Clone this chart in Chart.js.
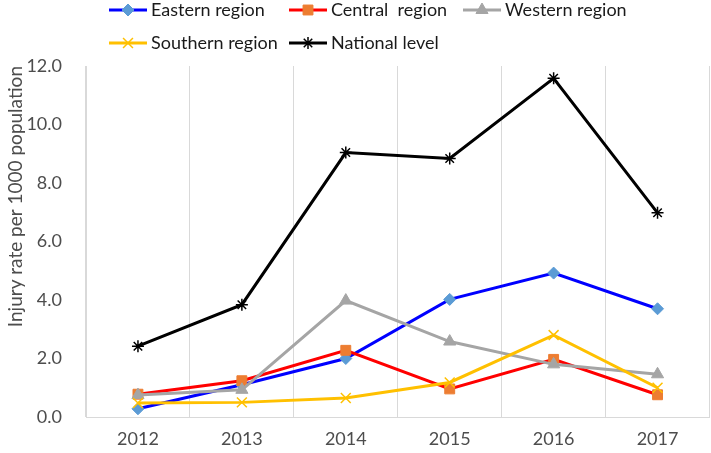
<!DOCTYPE html>
<html>
<head>
<meta charset="utf-8">
<script src="https://cdn.jsdelivr.net/npm/chart.js@4"></script>
<style>
  html, body { margin: 0; padding: 0; background: #fff; overflow: hidden; }
  #wrap { width: 718px; height: 453px; position: relative; }
</style>
</head>
<body>
<div id="wrap"><canvas id="chart"></canvas></div>
<script>
// Data
const years = ['2012', '2013', '2014', '2015', '2016', '2017'];
const eastern = [0.28, 1.1, 2.0, 4.02, 4.92, 3.7];
const central = [0.78, 1.24, 2.28, 0.96, 1.97, 0.76];
const western = [0.75, 0.93, 3.98, 2.58, 1.8, 1.46];
const southern = [0.48, 0.5, 0.65, 1.18, 2.8, 1.0];
const national = [2.42, 3.84, 9.04, 8.84, 11.58, 6.98];
const yTicks = [0, 2, 4, 6, 8, 10, 12];

const FONT = 'Lato, "Open Sans", sans-serif';
const TEXT = '#4d4d4d';

function series(label, data, color, markerColor, style, radius, order) {
    return {
        label: label,
        data: data,
        borderColor: color,
        backgroundColor: markerColor,
        pointBackgroundColor: markerColor,
        pointBorderColor: markerColor,
        pointStyle: style,
        pointRadius: radius,
        pointBorderWidth: (style === 'crossRot' || style === 'star') ? 1.5 : 1,
        borderWidth: 3,
        tension: 0,
        order: order
    };
}

const datasets = [
    series('Eastern region', eastern, '#0000ff', '#5b9bd5', 'rectRot', 6, 5),
    series('Central  region', central, '#ff0000', '#ed7d31', 'rect', 7, 4),
    series('Western region', western, '#a5a5a5', '#a5a5a5', 'triangle', 7, 3),
    series('Southern region', southern, '#ffc000', '#ffc000', 'crossRot', 7, 2),
    series('National level', national, '#000000', '#000000', 'star', 6, 1)
];

// Excel-style legend: rows aligned to the left, drawn above the plot
const legendSpots = [
    { x: 109, y: 10 }, { x: 289, y: 10 }, { x: 463, y: 10 },
    { x: 109, y: 43 }, { x: 289, y: 43 }
];

const excelLegend = {
    id: 'excelLegend',
    afterDraw(chart) {
        const ctx = chart.ctx;
        ctx.save();
        chart.data.datasets.forEach((ds, i) => {
            const p = legendSpots[i];
            ctx.strokeStyle = ds.borderColor;
            ctx.lineWidth = 3;
            ctx.beginPath();
            ctx.moveTo(p.x, p.y);
            ctx.lineTo(p.x + 38, p.y);
            ctx.stroke();
            ctx.fillStyle = ds.pointBackgroundColor;
            ctx.strokeStyle = ds.pointBorderColor;
            ctx.lineWidth = ds.pointBorderWidth;
            Chart.helpers.drawPoint(ctx, {
                pointStyle: ds.pointStyle,
                radius: ds.pointRadius,
                borderWidth: ds.pointBorderWidth,
                rotation: 0
            }, p.x + 19, p.y);
            ctx.fillStyle = '#1a1a1a';
            ctx.font = '18px ' + FONT;
            ctx.textBaseline = 'middle';
            ctx.textAlign = 'left';
            ctx.fillText(ds.label, p.x + 42, p.y);
        });
        ctx.restore();
    }
};

new Chart(document.getElementById('chart'), {
    type: 'line',
    data: { labels: years, datasets: datasets },
    options: {
        responsive: true,
        maintainAspectRatio: false,
        animation: false,
        layout: { padding: { top: 66, right: 0, left: 0, bottom: 0 } },
        plugins: {
            legend: { display: false },
            tooltip: { enabled: false }
        },
        scales: {
            x: {
                offset: true,
                afterFit(scale) { scale.height = 36; },
                grid: { display: true, offset: true, color: '#d9d9d9', lineWidth: 1, drawTicks: false },
                border: { display: true, color: '#d9d9d9' },
                ticks: { color: TEXT, font: { family: FONT, size: 18 }, padding: 11 }
            },
            y: {
                min: 0,
                max: 12,
                afterFit(scale) { scale.width = 86; },
                afterBuildTicks(scale) { scale.ticks = yTicks.map(v => ({ value: v })); },
                grid: { display: false },
                border: { display: true, color: '#d9d9d9' },
                ticks: {
                    color: TEXT,
                    font: { family: FONT, size: 18 },
                    padding: 16,
                    callback: v => v.toFixed(1)
                },
                title: {
                    display: true,
                    text: 'Injury rate per 1000 population',
                    align: 'end',
                    color: TEXT,
                    font: { family: FONT, size: 19 },
                    padding: { top: 4, bottom: 0 }
                }
            }
        }
    },
    plugins: [excelLegend]
});
</script>
</body>
</html>
